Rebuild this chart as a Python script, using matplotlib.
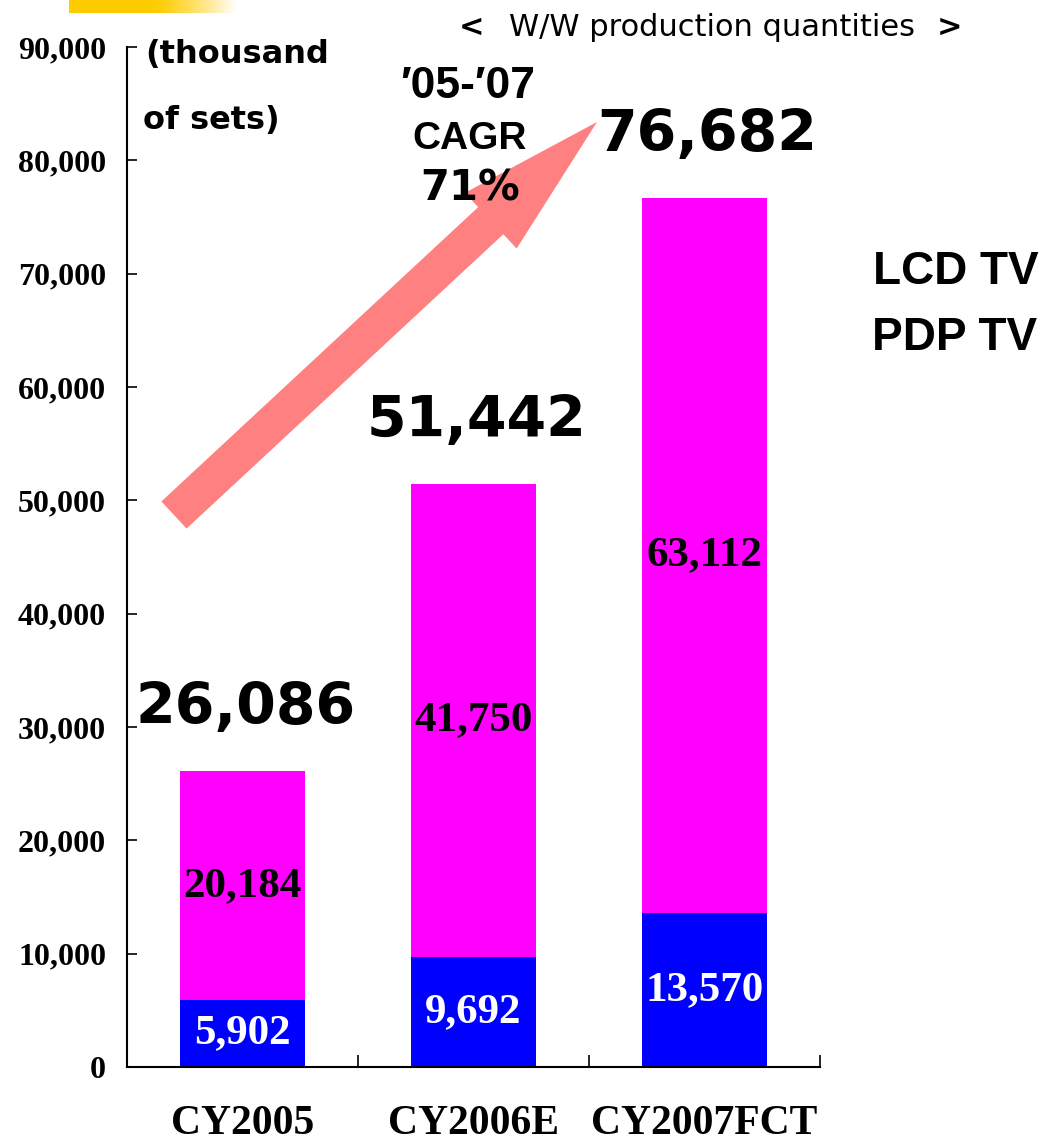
#!/usr/bin/env python3

'''
W/W production quantities of LCD TV and PDP TV, stacked bars
with totals and a CAGR arrow. Saved to out.png
'''

import numpy as np
import matplotlib
matplotlib.use('Agg')
from matplotlib import pyplot as plt
from matplotlib import patches as mpatches

W, H = 1049, 1141

categories = ['CY2005', 'CY2006E', 'CY2007FCT']
pdp_values = [5902, 9692, 13570]
lcd_values = [20184, 41750, 63112]
totals = [26086, 51442, 76682]
y_ticks = [0, 10000, 20000, 30000, 40000, 50000, 60000, 70000, 80000, 90000]

MAGENTA = '#FF00FF'
BLUE = '#0000FF'
ARROW = '#FF8080'
GOLD = '#FFCC00'


def fx(x):
    return x / W


def fy(y):
    return 1 - y / H


def fmt(v):
    return f'{v:,}'


fig = plt.figure(figsize=(W / 100, H / 100), dpi=100)
ax = fig.add_axes([fx(127), fy(1067), fx(820) - fx(127), fy(47) - fy(1067)])

x = np.arange(len(categories))
width = 0.54
ax.bar(x, pdp_values, width, color=BLUE)
ax.bar(x, lcd_values, width, bottom=pdp_values, color=MAGENTA)

serif = dict(family='Liberation Serif', weight='bold')
for i in range(len(categories)):
    ax.text(x[i], pdp_values[i] / 2, fmt(pdp_values[i]), ha='center',
            va='center', color='white', fontsize=31, **serif)
    ax.text(x[i], pdp_values[i] + lcd_values[i] / 2, fmt(lcd_values[i]),
            ha='center', va='center', color='black', fontsize=31, **serif)
    ax.annotate(fmt(totals[i]), (x[i], totals[i]), xytext=(2, 45),
                textcoords='offset points', ha='center', va='center',
                fontsize=41, family='DejaVu Sans', weight='bold')

# axes layout
ax.set_xlim(-0.5, 2.5)
ax.set_ylim(0, 90000)
for side in ['top', 'right']:
    ax.spines[side].set_visible(False)
for side in ['left', 'bottom']:
    ax.spines[side].set_linewidth(1.5)
ax.set_yticks(y_ticks)
ax.set_yticklabels([fmt(v) for v in y_ticks], fontsize=23, **serif)
ax.tick_params(axis='y', direction='in', length=7, width=1.2, pad=15)
ax.set_xticks(x)
ax.set_xticklabels(categories, fontsize=30, **serif)
ax.set_xticks([-0.5, 0.5, 1.5, 2.5], minor=True)
ax.tick_params(axis='x', which='major', length=0, pad=27)
ax.tick_params(axis='x', which='minor', direction='in', length=9, width=1.2)

# growth arrow (in inches so it keeps its shape)
tail = (174, 515)
tip = (597, 122)
x0, y0 = tail[0] / 100, (H - tail[1]) / 100
dx, dy = (tip[0] - tail[0]) / 100, -(tip[1] - tail[1]) / 100
arrow = mpatches.FancyArrow(x0, y0, dx, dy, width=0.37, head_width=0.76,
                            head_length=1.45, length_includes_head=True,
                            color=ARROW, lw=0, transform=fig.dpi_scale_trans)
fig.patches.append(arrow)

# texts around the plot
fig.text(fx(145), fy(55), '(thousand', fontsize=23, family='DejaVu Sans',
         weight='bold', va='center')
fig.text(fx(143), fy(120), 'of sets)', fontsize=23, family='DejaVu Sans',
         weight='bold', va='center')
sans = ['Liberation Sans', 'DejaVu Sans']
fig.text(fx(468), fy(87), '\u203205-\u203207', fontsize=32, family=sans,
         weight='bold', ha='center', va='center')
fig.text(fx(470), fy(139), 'CAGR', fontsize=28, family=sans,
         weight='bold', ha='center', va='center')
fig.text(fx(470), fy(189), '71%', fontsize=30, family='DejaVu Sans',
         weight='bold', ha='center', va='center')
fig.text(fx(873), fy(272), 'LCD TV', fontsize=33, family=sans,
         weight='bold', va='center')
fig.text(fx(872), fy(338), 'PDP TV', fontsize=33, family=sans,
         weight='bold', va='center')
fig.text(fx(471), fy(27), '<', fontsize=22, family='DejaVu Sans',
         weight='bold', ha='center', va='center')
fig.text(fx(712), fy(27), 'W/W production quantities', fontsize=22,
         family='DejaVu Sans', ha='center', va='center')
fig.text(fx(949), fy(27), '>', fontsize=22, family='DejaVu Sans',
         weight='bold', ha='center', va='center')

# gold bar at top-left, fading into white
grad = np.ones((1, 200, 3))
gold = np.array([1.0, 0.8, 0.0])
t = np.clip((np.linspace(0, 1, 200) - 0.5) / 0.5, 0, 1) ** 1.3
grad[0] = gold * (1 - t[:, None]) + np.ones(3) * t[:, None]
gax = fig.add_axes([fx(69), fy(13), fx(237) - fx(69), 13 / H])
gax.imshow(grad, aspect='auto', extent=[0, 1, 0, 1])
gax.axis('off')

fig.savefig('out.png', dpi=100)
